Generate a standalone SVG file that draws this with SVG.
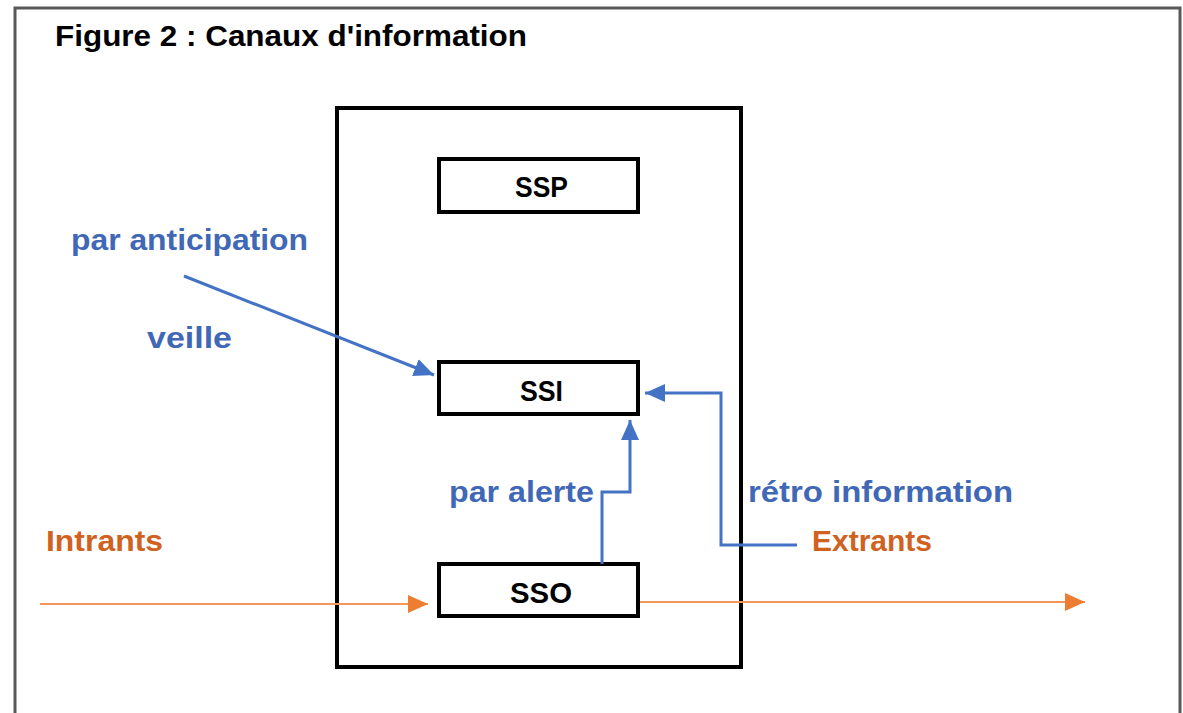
<svg xmlns="http://www.w3.org/2000/svg" width="1183" height="713" viewBox="0 0 1183 713">
<defs>
<style>
.box{fill:#fff;stroke:#000;stroke-width:4}
.lbl{font-family:"Liberation Sans",Arial,sans-serif;font-weight:700;font-size:30px;fill:#000}
.blue{font-family:"Liberation Sans",Arial,sans-serif;font-weight:700;font-size:30px;fill:#4168B6}
.orange{font-family:"Liberation Sans",Arial,sans-serif;font-weight:700;font-size:30px;fill:#D0621F}
.bl{fill:none;stroke:#4472C4;stroke-width:3}
.or{fill:none;stroke:#F4955A;stroke-width:2}
</style>
<marker id="ab" markerUnits="userSpaceOnUse" markerWidth="22" markerHeight="20" refX="20" refY="10" orient="auto"><path d="M0,1 L20,10 L0,19 Z" fill="#4472C4"/></marker>
<marker id="ao" markerUnits="userSpaceOnUse" markerWidth="22" markerHeight="20" refX="20" refY="10" orient="auto"><path d="M0,1 L20,10 L0,19 Z" fill="#ED7D31"/></marker>
</defs>
<rect x="0" y="0" width="1183" height="713" fill="#fff"/>
<rect x="15" y="8" width="1165" height="740" fill="none" stroke="#595959" stroke-width="3"/>
<text x="55" y="46" font-family="'Liberation Sans',Arial,sans-serif" font-weight="700" font-size="29" fill="#000" textLength="472" lengthAdjust="spacingAndGlyphs">Figure 2 : Canaux d'information</text>
<g id="system"><rect x="337" y="108" width="404" height="559" fill="none" stroke="#000" stroke-width="4"/></g>
<g id="ssp"><rect class="box" x="439" y="159" width="199" height="53"/><text class="lbl" x="515" y="197" textLength="53" lengthAdjust="spacingAndGlyphs">SSP</text></g>
<g id="ssi"><rect class="box" x="439" y="362" width="199" height="52"/><text class="lbl" x="520" y="401" textLength="43" lengthAdjust="spacingAndGlyphs">SSI</text></g>
<g id="sso"><rect class="box" x="439" y="564" width="199" height="52"/><text class="lbl" x="510" y="603" textLength="62" lengthAdjust="spacingAndGlyphs">SSO</text></g>
<g id="connectors">
<line class="bl" x1="184" y1="276" x2="434" y2="375" marker-end="url(#ab)"/>
<polyline class="bl" points="602,564 602,492 630,492 630,420" marker-end="url(#ab)"/>
<polyline class="bl" points="797,545 721,545 721,393 645,393" marker-end="url(#ab)"/>
<line class="or" x1="40" y1="604" x2="428" y2="604" marker-end="url(#ao)"/>
<line class="or" x1="640" y1="602" x2="1085" y2="602" marker-end="url(#ao)"/>
</g>
<g id="labels">
<text class="blue" x="71" y="250" textLength="237" lengthAdjust="spacingAndGlyphs">par anticipation</text>
<text class="blue" x="147" y="348" textLength="85" lengthAdjust="spacingAndGlyphs">veille</text>
<text class="blue" x="449" y="502" textLength="145" lengthAdjust="spacingAndGlyphs">par alerte</text>
<text class="blue" x="748" y="502" textLength="265" lengthAdjust="spacingAndGlyphs">rétro information</text>
<text class="orange" x="46" y="551" textLength="117" lengthAdjust="spacingAndGlyphs">Intrants</text>
<text class="orange" x="812" y="551" textLength="120" lengthAdjust="spacingAndGlyphs">Extrants</text>
</g>
</svg>
